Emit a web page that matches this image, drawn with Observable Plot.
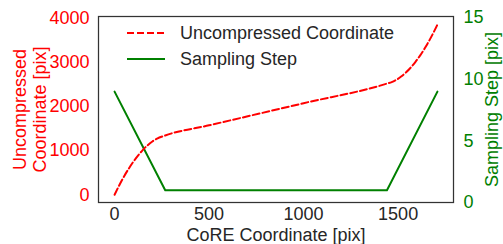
<!DOCTYPE html>
<html>
<head>
<meta charset="utf-8">
<script src="https://cdn.jsdelivr.net/npm/d3@7"></script>
<script src="https://cdn.jsdelivr.net/npm/@observablehq/plot@0.6"></script>
<style>
  body { margin: 0; background: #fff; }
  #wrap { position: relative; width: 503px; height: 244px; font-family: "Liberation Sans", Arial, sans-serif; }
  #legend { position: absolute; left: 127px; top: 20px; font-size: 18px; color: #262626; }
  .row { display: flex; align-items: center; height: 26px; }
  .row svg { width: 38px; height: 6px; margin-right: 15px; }
</style>
</head>
<body>
<div id="wrap"></div>
<script>
// CoRE coordinate (x) and uncompressed coordinate (left axis)
const coreX = [0, 25, 50, 75, 100, 125, 150, 175, 200, 225, 268, 500, 1000, 1441, 1466, 1491, 1516, 1541, 1566, 1591, 1616, 1641, 1666, 1691, 1708];
const uncompressed = [0, 215, 415, 590, 750, 890, 1015, 1120, 1205, 1270, 1340, 1570, 2070, 2513, 2547, 2600, 2672, 2763, 2872, 3000, 3147, 3312, 3496, 3699, 3848];
// Sampling step (right axis)
const stepX = [0, 268, 1441, 1708];
const stepY = [9, 1, 1, 9];
// tick labels
const xTicks = [0, 500, 1000, 1500];
const leftTicks = [0, 1000, 2000, 3000, 4000];
const rightTicks = [0, 5, 10, 15];

const curve = coreX.map((x, i) => ({x, y: uncompressed[i]}));
const steps = stepX.map((x, i) => ({x, s: stepY[i]}));

const leftDomain = [-175, 4030];
const rightDomain = [0, 15.1];
const toLeft = v => leftDomain[0] + (v - rightDomain[0]) / (rightDomain[1] - rightDomain[0]) * (leftDomain[1] - leftDomain[0]);

const RED = "#ff0000", GREEN = "#008000", INK = "#262626";
const FS = 18;
const plain = d => String(d);

const chart = Plot.plot({
  width: 503,
  height: 244,
  marginLeft: 98,
  marginRight: 50,
  marginTop: 16,
  marginBottom: 42,
  style: {fontFamily: '"Liberation Sans", Arial, sans-serif', fontSize: FS + "px", background: "#fff", overflow: "visible"},
  x: {domain: [-85, 1793]},
  y: {domain: leftDomain},
  marks: [
    Plot.axisX(xTicks, {tickSize: 0, tickPadding: 5, fontSize: FS, fill: INK, label: null, tickFormat: plain}),
    Plot.axisY(leftTicks, {tickSize: 0, tickPadding: 9, fontSize: FS, fill: RED, label: null, tickFormat: plain}),
    Plot.text(rightTicks, {y: d => toLeft(d), text: plain, frameAnchor: "right", textAnchor: "start", dx: 10, fill: GREEN, fontSize: FS}),
    Plot.line(steps, {x: "x", y: d => toLeft(d.s), stroke: GREEN, strokeWidth: 2}),
    Plot.line(curve, {x: "x", y: "y", stroke: RED, strokeWidth: 2, strokeDasharray: "7,3", curve: "monotone-x"}),
    Plot.frame({stroke: "#333", strokeWidth: 1.25}),
    Plot.text(["Uncompressed\nCoordinate [pix]"], {frameAnchor: "left", textAnchor: "middle", lineAnchor: "middle", rotate: -90, dx: -69, fill: RED, fontSize: FS, lineHeight: 1.12}),
    Plot.text(["Sampling Step [pix]"], {frameAnchor: "right", textAnchor: "middle", lineAnchor: "middle", rotate: -90, dx: 39, fill: GREEN, fontSize: FS}),
    Plot.text(["CoRE Coordinate [pix]"], {frameAnchor: "bottom", textAnchor: "middle", lineAnchor: "middle", dy: 33, fill: INK, fontSize: FS})
  ]
});

const wrap = document.getElementById("wrap");
wrap.appendChild(chart);

const legendItems = [
  {label: "Uncompressed Coordinate", color: RED, dash: "7,3"},
  {label: "Sampling Step", color: GREEN, dash: null}
];
const legend = document.createElement("div");
legend.id = "legend";
legend.innerHTML = legendItems.map(d =>
  `<div class="row"><svg><line x1="0" y1="3" x2="38" y2="3" stroke="${d.color}" stroke-width="2" ${d.dash ? `stroke-dasharray="${d.dash}"` : ""}/></svg><span>${d.label}</span></div>`
).join("");
wrap.appendChild(legend);
</script>
</body>
</html>
